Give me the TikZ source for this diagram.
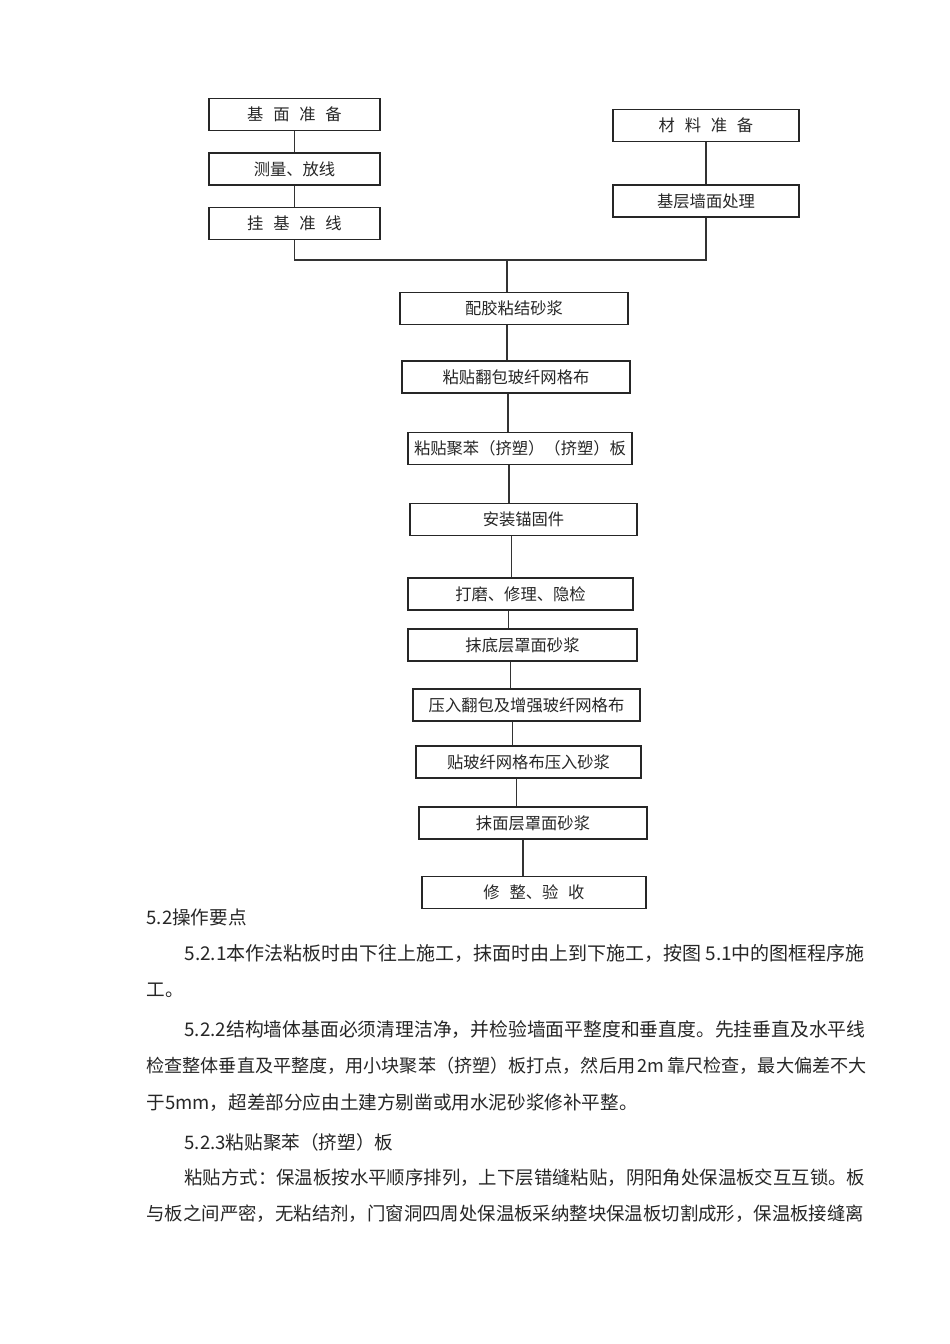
\documentclass[tikz,border=0pt]{standalone}
\usepackage{fontspec}
\setmainfont{Noto Sans CJK SC}
\usetikzlibrary{positioning,calc}
\newcommand{\cgap}{\hspace{0.6em}}
\newcommand{\bodysize}[1]{\fontsize{#1}{22}\selectfont}

\begin{document}
\begin{tikzpicture}[
    x=1pt, y=-1pt,
    line width=1.1pt,
    every node/.style={align=center, text=black!85},
    stepbox/.style={draw=black!85, minimum height=32pt, inner sep=0pt, font=\fontsize{16.3}{19}\selectfont},
    link/.style={draw=black!80, line width=1.1pt},
    bodyline/.style={anchor=west, inner sep=0pt, font=\bodysize{18.6}}
]

\useasboundingbox (0,0) rectangle (950,1344);

% -------------------------------------------------
% LEFT COLUMN
% -------------------------------------------------
\node[stepbox, minimum width=171pt] (jm) at (294.5,114.5) {基\cgap 面\cgap 准\cgap 备};
\node[stepbox, minimum width=171pt] (cl) at (294.5,169) {测量、放线};
\node[stepbox, minimum width=171pt] (gx) at (294.5,223.5) {挂\cgap 基\cgap 准\cgap 线};

\draw[link] (jm.south) -- (cl.north);
\draw[link] (cl.south) -- (gx.north);

% -------------------------------------------------
% RIGHT COLUMN
% -------------------------------------------------
\node[stepbox, minimum width=186pt] (cz) at (706,125.5) {材\cgap 料\cgap 准\cgap 备};
\node[stepbox, minimum width=186pt] (qm) at (706,201) {基层墙面处理};

\draw[link] (cz.south) -- (qm.north);

% junction
\coordinate (junc) at (507,260);
\draw[link] (gx.south) |- (junc);
\draw[link] (qm.south) |- (junc);

% -------------------------------------------------
% MAIN SEQUENCE
% -------------------------------------------------
\node[stepbox, minimum width=228pt] (pj) at (514,308.5) {配胶粘结砂浆};
\node[stepbox, minimum width=228pt] (fb) at (516,377) {粘贴翻包玻纤网格布};
\node[stepbox, minimum width=224pt] (jb) at (520,448.5) {粘贴聚苯（挤塑）（挤塑）板};
\node[stepbox, minimum width=227pt] (mg) at (523.5,519.5) {安装锚固件};
\node[stepbox, minimum width=225pt] (dm) at (520.5,594) {打磨、修理、隐检};
\node[stepbox, minimum width=229pt] (dc) at (522.5,645) {抹底层罩面砂浆};
\node[stepbox, minimum width=227pt] (yr) at (526.5,705) {压入翻包及增强玻纤网格布};
\node[stepbox, minimum width=225pt] (tb) at (528.5,762) {贴玻纤网格布压入砂浆};
\node[stepbox, minimum width=228pt] (mc) at (533,823) {抹面层罩面砂浆};
\node[stepbox, minimum width=224pt] (ys) at (534,892.5) {修\cgap 整、验\cgap 收};

% connector feet
\coordinate (f1) at ($(pj.south)+(-7,0)$);
\coordinate (f2) at ($(fb.south)+(-8,0)$);
\coordinate (f3) at ($(jb.south)+(-11,0)$);
\coordinate (f4) at ($(mg.south)+(-12,0)$);
\coordinate (f5) at ($(dm.south)+(-12,0)$);
\coordinate (f6) at ($(dc.south)+(-12,0)$);
\coordinate (f7) at ($(yr.south)+(-14,0)$);
\coordinate (f8) at ($(tb.south)+(-12,0)$);
\coordinate (f9) at ($(mc.south)+(-10,0)$);

\draw[link] (junc) -- (junc |- pj.north);
\draw[link] (f1) -- (f1 |- fb.north);
\draw[link, line width=1.8pt] (f2) -- (f2 |- jb.north);
\draw[link] (f3) -- (f3 |- mg.north);
\draw[link] (f4) -- (f4 |- dm.north);
\draw[link] (f5) -- (f5 |- dc.north);
\draw[link] (f6) -- (f6 |- yr.north);
\draw[link] (f7) -- (f7 |- tb.north);
\draw[link] (f8) -- (f8 |- mc.north);
\draw[link] (f9) -- (f9 |- ys.north);

% -------------------------------------------------
% TEXT BELOW
% -------------------------------------------------
\node[bodyline] (t1) at (146,917) {5.2操作要点};
\node[bodyline, font=\bodysize{19}] (t2) at (184,953) {5.2.1本作法粘板时由下往上施工，抹面时由上到下施工，按图\hspace{0.2em}5.1中的图框程序施};
\node[bodyline] (t3) at (146,990) {工。};
\node[bodyline, font=\bodysize{18.8}] (t4) at (184,1030) {5.2.2结构墙体基面必须清理洁净，并检验墙面平整度和垂直度。先挂垂直及水平线};
\node[bodyline, font=\bodysize{18.1}] (t5) at (146,1066) {检查整体垂直及平整度，用小块聚苯（挤塑）板打点，然后用\hspace{0.15em}2m\hspace{0.15em}靠尺检查，最大偏差不大};
\node[bodyline] (t6) at (146,1103) {于5mm，超差部分应由土建方剔凿或用水泥砂浆修补平整。};
\node[bodyline] (t7) at (184,1142) {5.2.3粘贴聚苯（挤塑）板};
\node[bodyline, font=\bodysize{18.4}] (t8) at (184,1178) {粘贴方式：保温板按水平顺序排列，上下层错缝粘贴，阴阳角处保温板交互互锁。板};
\node[bodyline, font=\bodysize{18.4}] (t9) at (146,1214) {与板之间严密，无粘结剂，门窗洞四周处保温板采纳整块保温板切割成形，保温板接缝离};

\end{tikzpicture}
\end{document}
